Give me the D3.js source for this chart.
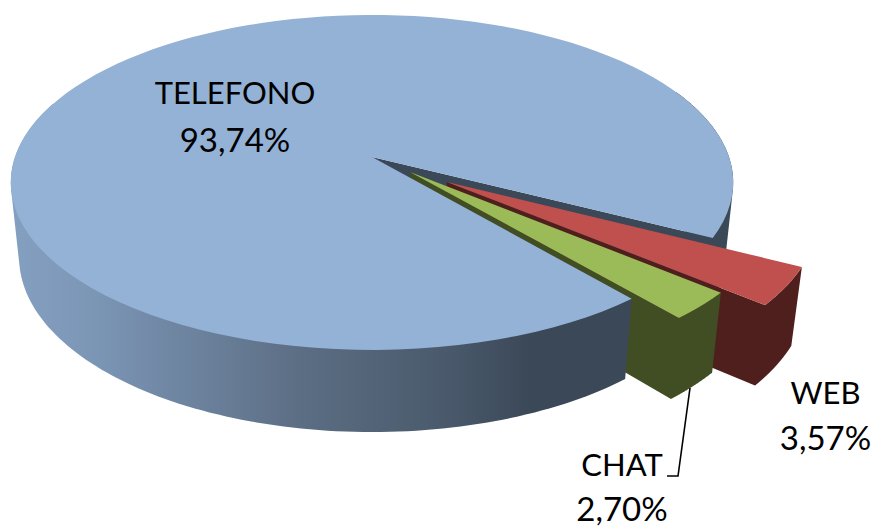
<!DOCTYPE html>
<html>
<head>
<meta charset="utf-8">
<style>
html,body{margin:0;padding:0;background:#fff}
svg{display:block}
text{font-family:"Lato","Open Sans",sans-serif;fill:#000}
</style>
<script src="https://cdn.jsdelivr.net/npm/d3@7/dist/d3.min.js"></script>
</head>
<body>
<svg id="chart" width="876" height="527"></svg>
<script>
// Channel shares shown on the exploded 3-D pie
const categories = ["TELEFONO", "WEB", "CHAT"];
const shares = [93.74, 3.57, 2.70];
const shareLabels = ["93,74%", "3,57%", "2,70%"];
// How far each slice is pulled out along the ground plane (x, y in pie radii)
const pullX = [0, 0.205, 0.105];
const pullY = [0, 0.149, 0.090];
const topColors = ["#94b1d6", "#c0504d", "#9bbb59"];
const sideColors = ["#3b4858", "#4f1f1d", "#414d22"];
const wallStops = [[0, "#84a0c0"], [0.12, "#7b95b5"], [0.4, "#5c6e84"], [0.6, "#4a5a6c"], [0.72, "#3b4858"], [1, "#3b4858"]];

const svg = d3.select("#chart");
const rad = d => d * Math.PI / 180;

// Perspective view of the pie: depth on screen shrinks towards the back
const originX = 372, originY = 157, tilt = 0.152, floorScale = 0.023, thickness = 76;
const radiusX = d3.scaleLinear().domain([0, 1]).range([0, 357]);
const radiusY = d3.scaleLinear().domain([0, 1]).range([0, 163.6]);

function project(u, v, low) {
  const w = 1 - tilt * v + (low ? floorScale : 0);
  return [originX + radiusX(u) / w, originY + (radiusY(v) + (low ? thickness : 0)) / w];
}
const onRim = (theta, dx, dy, low) => project(Math.cos(theta) + dx, Math.sin(theta) + dy, low);

const pie = d3.pie().sort(null).startAngle(rad(140)).endAngle(rad(500));
const arcs = pie(shares).map((a, i) => ({
  i,
  from: a.startAngle - Math.PI / 2,
  to: a.endAngle - Math.PI / 2,
  dx: pullX[i],
  dy: pullY[i]
}));

const line = d3.line().curve(d3.curveLinear);
const rim = (a, b, dx, dy, low) =>
  d3.range(0, 121).map(k => onRim(a + (b - a) * k / 120, dx, dy, low));

function draw(points, fill) {
  svg.append("path").attr("d", line(points) + "Z").attr("fill", fill);
}
function wedgeTop(s) {
  return [project(s.dx, s.dy, false), ...rim(s.from, s.to, s.dx, s.dy, false)];
}
// Side of an arc, as the outline a straight-sided drum shows from this viewpoint
function drumWall(a, b, s) {
  return d3.polygonHull([...rim(a, b, s.dx, s.dy, false), ...rim(a, b, s.dx, s.dy, true)]);
}
// Cut face and curved rim of a pulled slice as one outline, so no seam shows between them
function sliceSides(s) {
  return [project(s.dx, s.dy, false),
          ...rim(s.to, s.from, s.dx, s.dy, false),
          ...rim(s.from, s.to, s.dx, s.dy, true),
          project(s.dx, s.dy, true)];
}
function cutFace(theta, s) {
  return [project(s.dx, s.dy, false), onRim(theta, s.dx, s.dy, false),
          onRim(theta, s.dx, s.dy, true), project(s.dx, s.dy, true)];
}

// Horizontal shading of the large slice's rim
const grad = svg.append("defs").append("linearGradient")
  .attr("id", "wall").attr("gradientUnits", "userSpaceOnUse")
  .attr("x1", 11).attr("x2", 733).attr("y1", 0).attr("y2", 0);
wallStops.forEach(s => grad.append("stop").attr("offset", s[0]).attr("stop-color", s[1]));

const [main, web, chat] = arcs;
const notchFar = main.to % (2 * Math.PI);

// Back-to-front: right rim and notch wall, the two pulled slices, then the front of the pie
draw(drumWall(rad(-25), notchFar, main), sideColors[0]);
draw(cutFace(notchFar, main), sideColors[0]);

[web, chat].forEach(s => {
  draw(sliceSides(s), sideColors[s.i]);
  draw(wedgeTop(s), topColors[s.i]);
});

draw(drumWall(main.from, rad(200), main), "url(#wall)");
draw(wedgeTop(main), topColors[0]);

// Leader from the CHAT slice to its label
const leaderX = [690, 678, 667];
const leaderY = [388, 476, 476];
svg.append("path")
  .attr("d", line(leaderX.map((x, i) => [x, leaderY[i]])))
  .attr("fill", "none").attr("stroke", "#000").attr("stroke-width", 1.6);

// Data labels: name above, share below
const labelX = [235, 825.5, 622];
const nameY = [104, 403.5, 476];
const valueY = [152, 450, 520.5];
categories.forEach((c, i) => {
  svg.append("text").attr("x", labelX[i]).attr("y", nameY[i])
    .attr("text-anchor", "middle").attr("font-size", 31).text(c);
  svg.append("text").attr("x", labelX[i]).attr("y", valueY[i])
    .attr("text-anchor", "middle").attr("font-size", 33).text(shareLabels[i]);
});
</script>
</body>
</html>
